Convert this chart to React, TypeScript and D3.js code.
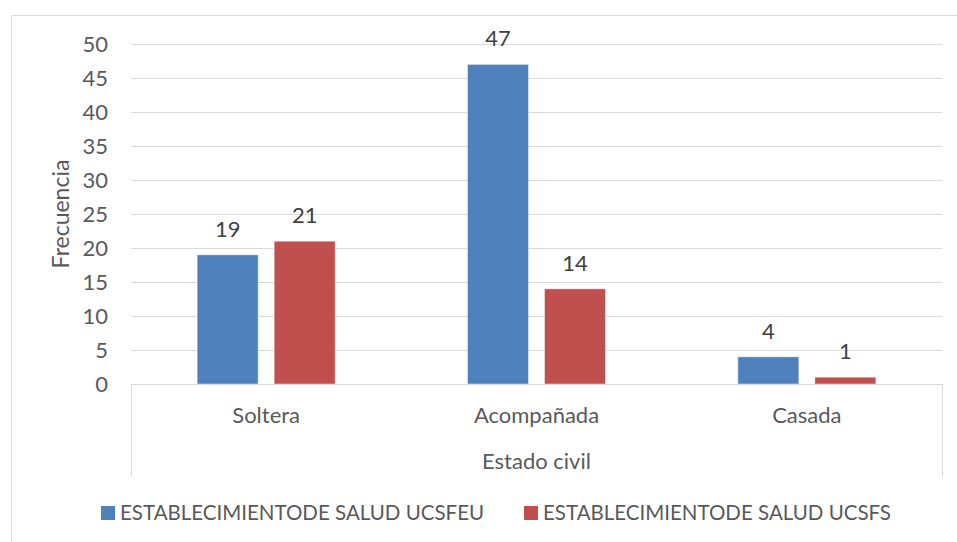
import React from "react";
import * as d3 from "d3";

const categories = ["Soltera", "Acompañada", "Casada"];
const seriesNames = ["ESTABLECIMIENTODE SALUD UCSFEU", "ESTABLECIMIENTODE SALUD UCSFS"];
const ucsfeu = [19, 47, 4];
const ucsfs = [21, 14, 1];
const yTicks = [0, 5, 10, 15, 20, 25, 30, 35, 40, 45, 50];
const colors = ["#4F81BD", "#C0504D"];

const W = 957;
const H = 542;
const FONT = "Lato, 'Open Sans', sans-serif";
const TXT = "#595959";

export default function App() {
  const left = 131, right = 942, top = 44, bottom = 384;
  const y = d3.scaleLinear().domain([0, 50]).range([bottom, top]);
  const x0 = d3.scaleBand<string>().domain(categories).range([left, right]).paddingInner(0).paddingOuter(0);
  const groupW = 138;
  const x1 = d3.scaleBand<string>().domain(seriesNames).range([0, groupW]).paddingInner(16 / 77).paddingOuter(0);
  const values = [ucsfeu, ucsfs];

  return (
    <svg width={W} height={H} style={{ position: "absolute", left: 0, top: 0, background: "#fff" }} fontFamily={FONT}>
      <rect x={0} y={0} width={W} height={H} fill="#fff" />
      {/* outer border */}
      <path d={`M11.5,${H} V15.5 H${W}`} fill="none" stroke="#d9d9d9" strokeWidth={1} />
      {/* gridlines */}
      {yTicks.map((t) => (
        <line key={t} x1={left} x2={right} y1={Math.round(y(t)) + 0.5} y2={Math.round(y(t)) + 0.5} stroke="#d9d9d9" strokeWidth={1} />
      ))}
      {/* y tick labels */}
      {yTicks.map((t) => (
        <text key={"l" + t} x={108} y={y(t) + 8} textAnchor="end" fontSize={22} fill={TXT}>
          {t}
        </text>
      ))}
      {/* axis title */}
      <text transform={`translate(69,${(top + bottom) / 2}) rotate(-90)`} textAnchor="middle" fontSize={23} fill={TXT}>
        Frecuencia
      </text>
      {/* bars */}
      {categories.map((c, ci) => {
        const gx = (x0(c) as number) + x0.bandwidth() / 2 - groupW / 2;
        return seriesNames.map((s, si) => {
          const v = values[si][ci];
          const bx = gx + (x1(s) as number);
          return (
            <g key={c + s}>
              <rect x={bx} y={y(v)} width={x1.bandwidth()} height={y(0) - y(v)} fill={colors[si]} stroke="rgba(255,255,255,0.45)" strokeWidth={1} />
              <text x={bx + x1.bandwidth() / 2} y={y(v) - 18} textAnchor="middle" fontSize={22} fill="#404040">
                {v}
              </text>
            </g>
          );
        });
      })}
      {/* category axis box */}
      <line x1={left} x2={right} y1={bottom + 0.5} y2={bottom + 0.5} stroke="#d9d9d9" strokeWidth={1} />
      <line x1={left + 0.5} x2={left + 0.5} y1={bottom} y2={477} stroke="#d9d9d9" strokeWidth={1} />
      <line x1={right + 0.5} x2={right + 0.5} y1={bottom} y2={477} stroke="#d9d9d9" strokeWidth={1} />
      {categories.map((c) => (
        <text key={"c" + c} x={(x0(c) as number) + x0.bandwidth() / 2} y={423} textAnchor="middle" fontSize={22} fill={TXT}>
          {c}
        </text>
      ))}
      <text x={(left + right) / 2} y={469} textAnchor="middle" fontSize={22} fill={TXT}>
        Estado civil
      </text>
      {/* legend */}
      {seriesNames.map((s, i) => {
        const lx = i === 0 ? 101 : 524;
        return (
          <g key={"lg" + s}>
            <rect x={lx} y={506} width={14} height={14} fill={colors[i]} />
            <text x={lx + 19} y={520} fontSize={20.5} fill={TXT}>
              {s}
            </text>
          </g>
        );
      })}
    </svg>
  );
}
